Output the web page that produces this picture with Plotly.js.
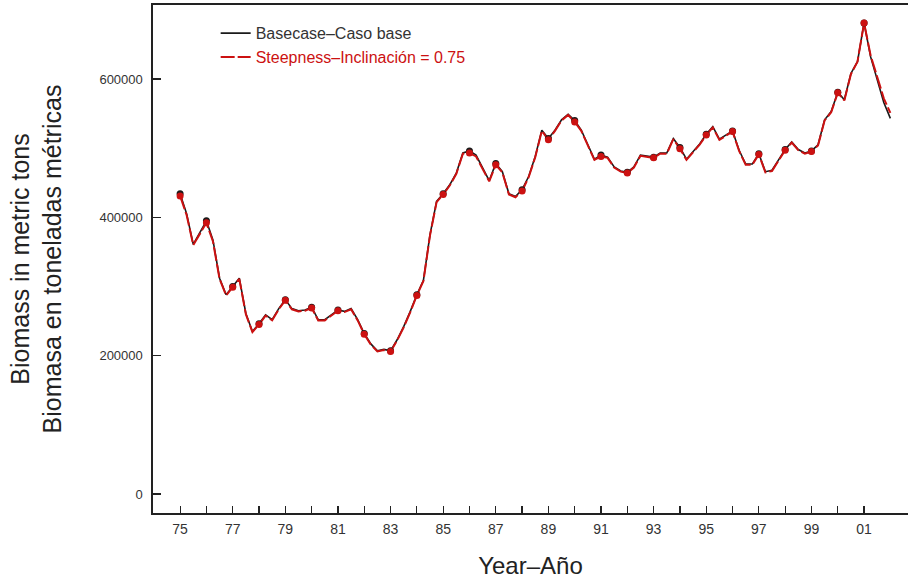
<!DOCTYPE html>
<html>
<head>
<meta charset="utf-8">
<script src="https://cdn.plot.ly/plotly-3.0.1.min.js"></script>
<style>html,body{margin:0;padding:0;background:#fff;}#chart{width:908px;height:579px;}</style>
</head>
<body>
<div id="chart"></div>
<script>
// Quarterly time points 1975.00 .. 2002.00
const startYear = 1975;
const quartersPerYear = 4;
const lastMarkerYear = 2001;

// Basecase – Caso base (metric tons), one value per quarter
const basecase = [
  434000, 405000, 361000, 378000,   // 1975
  395000, 367000, 312000, 288000,   // 1976
  300000, 312000, 261000, 235000,   // 1977
  246000, 259000, 252000, 268000,   // 1978
  281000, 268000, 265000, 266000,   // 1979
  270000, 252000, 252000, 259000,   // 1980
  266000, 264000, 268000, 252000,   // 1981
  232000, 217000, 207000, 209000,   // 1982
  207000, 223000, 242000, 264000,   // 1983
  288000, 309000, 375000, 423000,   // 1984
  434000, 447000, 464000, 493000,   // 1985
  496000, 490000, 471000, 453000,   // 1986
  478000, 466000, 434000, 430000,   // 1987
  440000, 459000, 488000, 526000,   // 1988
  514000, 526000, 541000, 549000,   // 1989
  540000, 526000, 505000, 484000,   // 1990
  490000, 487000, 473000, 467000,   // 1991
  465000, 473000, 490000, 488000,   // 1992
  487000, 493000, 493000, 514000,   // 1993
  501000, 484000, 495000, 506000,   // 1994
  520000, 531000, 513000, 519000,   // 1995
  525000, 497000, 477000, 477000,   // 1996
  492000, 466000, 468000, 483000,   // 1997
  498000, 509000, 498000, 493000,   // 1998
  496000, 505000, 541000, 553000,   // 1999
  581000, 570000, 608000, 625000,   // 2000
  681000, 632000, 598000, 566000,   // 2001
  543000                            // 2002
];

// Steepness – Inclinación = 0.75
const steepness = [
  431000, 403000, 360000, 376000,
  392000, 365000, 311000, 287000,
  299000, 311000, 260000, 234000,
  245000, 258000, 251000, 267000,
  280000, 267000, 264000, 265000,
  269000, 251000, 251000, 258000,
  265000, 263000, 267000, 251000,
  231000, 216000, 206000, 208000,
  206000, 222000, 241000, 263000,
  287000, 308000, 374000, 422000,
  433000, 446000, 463000, 492000,
  493000, 488000, 470000, 452000,
  476000, 465000, 433000, 429000,
  438000, 458000, 487000, 525000,
  512000, 525000, 540000, 548000,
  538000, 525000, 504000, 483000,
  488000, 486000, 472000, 466000,
  464000, 472000, 489000, 487000,
  486000, 492000, 492000, 513000,
  499000, 483000, 494000, 505000,
  519000, 530000, 512000, 518000,
  524000, 496000, 476000, 476000,
  491000, 465000, 467000, 482000,
  497000, 508000, 497000, 492000,
  495000, 504000, 540000, 552000,
  580000, 569000, 607000, 625000,
  681000, 634000, 602000, 572000,
  551000
];

const tickYears = [1975,1976,1977,1978,1979,1980,1981,1982,1983,1984,1985,1986,1987,1988,
                   1989,1990,1991,1992,1993,1994,1995,1996,1997,1998,1999,2000,2001];
const tickLabels = ['75','','77','','79','','81','','83','','85','','87','','89','','91','','93','','95','','97','','99','','01'];
const yTickVals = [0, 200000, 400000, 600000];
const yTickText = ['0', '200000', '400000', '600000'];

const t = basecase.map((_, i) => startYear + i / quartersPerYear);
const annualIdx = t.map((v, i) => i).filter(i => i % quartersPerYear === 0 && t[i] <= lastMarkerYear);

const traces = [
  {x: t, y: basecase, type: 'scatter', mode: 'lines', name: 'Basecase–Caso base',
   line: {color: '#1a1a1a', width: 1.6}},
  {x: t, y: steepness, type: 'scatter', mode: 'lines',
   name: '<span style="color:#cc1111">Steepness–Inclinación = 0.75</span>',
   line: {color: '#cc1111', width: 2, dash: '14px,3px'}},
  {x: annualIdx.map(i => t[i]), y: annualIdx.map(i => basecase[i]), type: 'scatter', mode: 'markers',
   showlegend: false, marker: {color: '#1a1a1a', size: 7}},
  {x: annualIdx.map(i => t[i]), y: annualIdx.map(i => steepness[i]), type: 'scatter', mode: 'markers',
   showlegend: false, marker: {color: '#cc1111', size: 7}}
];

const layout = {
  width: 908, height: 579,
  margin: {l: 153, r: 0, t: 5, b: 66},
  paper_bgcolor: '#fff', plot_bgcolor: '#fff',
  font: {family: 'Arial, Liberation Sans, sans-serif', color: '#222'},
  showlegend: true,
  legend: {x: 0.083, y: 0.978, xanchor: 'left', yanchor: 'top', bgcolor: 'rgba(0,0,0,0)',
           font: {size: 16, color: '#333'}, tracegroupgap: 0},
  xaxis: {
    range: [1973.97, 2002.67], tickvals: tickYears, ticktext: tickLabels,
    ticks: 'inside', ticklen: 7, tickwidth: 1.2, tickcolor: '#222',
    showline: true, linecolor: '#222', linewidth: 2, mirror: true,
    showgrid: false, zeroline: false, ticklabelstandoff: 2,
    tickfont: {family: 'Liberation Sans Narrow, Arial Narrow, Arial', size: 14, color: '#333'},
    title: {text: 'Year–Año', font: {family: 'Liberation Sans Narrow, Arial Narrow, Arial', size: 24, color: '#222'}, standoff: 21}
  },
  yaxis: {
    range: [-27500, 707000], tickvals: yTickVals, ticktext: yTickText,
    ticks: 'inside', ticklen: 8, tickwidth: 1.2, tickcolor: '#222',
    showline: true, linecolor: '#222', linewidth: 1.6,
    showgrid: false, zeroline: false, ticklabelstandoff: 6,
    tickfont: {size: 13, color: '#333'},
    title: {text: 'Biomass in metric tons<br>Biomasa en toneladas métricas',
            font: {size: 25, color: '#222'}, standoff: 30}
  }
};

Plotly.newPlot('chart', traces, layout, {displayModeBar: false, staticPlot: true});
</script>
</body>
</html>
